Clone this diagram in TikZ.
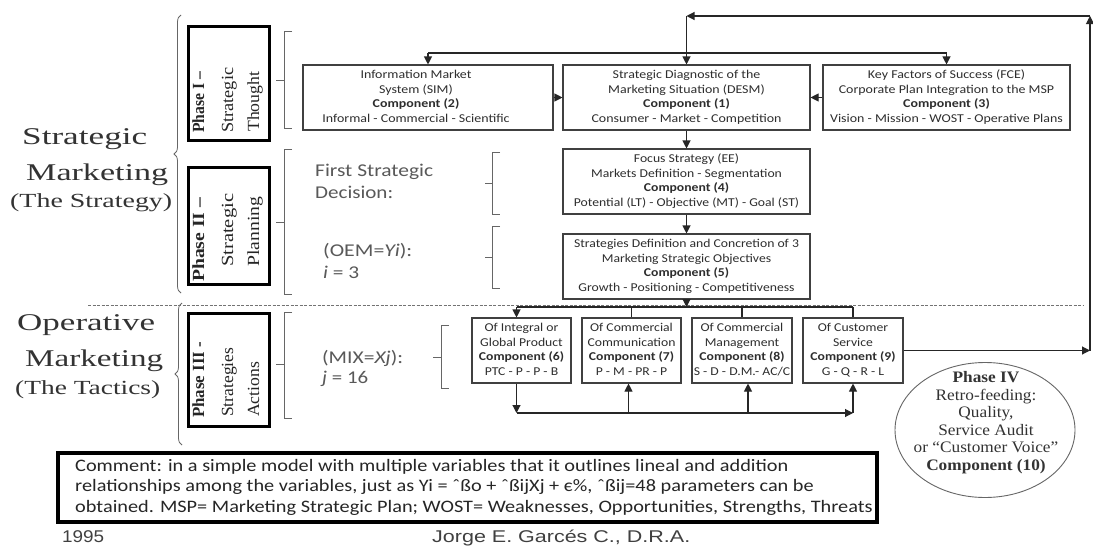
\documentclass[tikz,border=0pt]{standalone}
\usepackage{fontspec}
\setmainfont{Liberation Serif}
\newfontfamily\calfont{Carlito}
\newfontfamily\arialfont{Liberation Sans}
\usepackage{graphicx}
\usetikzlibrary{arrows.meta,decorations.pathreplacing,shapes.geometric,calc}
\newcommand{\stackc}[2]{\scalebox{#1}[1]{\begin{tabular}{@{}c@{}}#2\end{tabular}}}
\newcommand{\fitw}[2]{\resizebox{#1pt}{\height}{#2}}
\begin{document}
\begin{tikzpicture}[x=1pt,y=-1pt,
  cbox/.style={draw=black!75, line width=1.1pt, minimum height=65pt, inner sep=0pt,
    font=\calfont\fontsize{12}{14.8}\selectfont, text=black!82},
  phasebox/.style={draw=black, line width=3pt, minimum width=81pt, inner sep=0pt},
  rot/.style={rotate=90, anchor=base west, inner sep=0pt, text=black!85,
    font=\fontsize{17}{17}\selectfont},
  arr/.style={-{Triangle[length=8pt,width=8pt]}, line width=1.1pt, draw=black!85},
  ln/.style={line width=1.1pt, draw=black!85},
  brk/.style={draw=black!60, line width=0.8pt},
  bracegray/.style={draw=black!60, line width=0.8pt, decorate, decoration={brace, amplitude=7pt}},
  dashline/.style={draw=black!55, line width=0.9pt, dash pattern=on 3pt off 1.5pt},
  title/.style={font=\fontsize{24}{24}\selectfont, text=black!80, anchor=base west, inner sep=0pt},
  gtxt/.style={font=\calfont\fontsize{18}{18}\selectfont, text=black!65, anchor=base west, inner sep=0pt}
]
\useasboundingbox (0,0) rectangle (1093,549);
\fill[white] (0,0) rectangle (1093,549);

% ---- left titles and braces
\node[title] (t1) at (22,144) {\fitw{125}{Strategic}};
\node[title] (t2) at (26,180) {\fitw{142}{Marketing}};
\node[title, font=\fontsize{20}{20}\selectfont] (t3) at (10,207) {\fitw{162}{(The Strategy)}};
\node[title] (t4) at (17,330) {\fitw{138}{Operative}};
\node[title] (t5) at (25,366) {\fitw{138}{Marketing}};
\node[title, font=\fontsize{20}{20}\selectfont] (t6) at (15,394) {\fitw{145}{(The Tactics)}};
\draw[bracegray] (181,293) -- (181,15);
\draw[bracegray] (182,445) -- (182,303);

% ---- dashed separator
\draw[dashline] (88,305) -- (1083,305);

% ---- phase boxes
\node[phasebox, minimum height=114pt] (p1) at (228.5,83) {};
\node[phasebox, minimum height=117pt] (p2) at (228.5,225.5) {};
\node[phasebox, minimum height=113pt] (p3) at (228.5,369.5) {};
\node[rot] (p1a) at (204,133) {\fitw{61}{\bfseries Phase I --}};
\node[rot] (p1b) at (233,133) {\fitw{65}{Strategic}};
\node[rot] (p1c) at (259,132) {\fitw{60}{Thought}};
\node[rot] (p2a) at (204,282) {\fitw{84}{\bfseries Phase II --}};
\node[rot] (p2b) at (233,267) {\fitw{73}{Strategic}};
\node[rot] (p2c) at (259,267) {\fitw{70}{Planning}};
\node[rot] (p3a) at (204,418) {\fitw{76}{\bfseries Phase III -}};
\node[rot] (p3b) at (233,417) {\fitw{69}{Strategies}};
\node[rot] (p3c) at (259,417) {\fitw{55}{Actions}};

% ---- square brackets
\foreach \bx/\bt/\bb/\bm/\bl in {284/31/128/80/276, 284/149/294/222/276, 284/312/418/364/276,
                                 492/152/214/183/485, 492/226/288/257/485, 441/325/388/357/433}{
  \draw[brk] (\bx+8,\bt) -- (\bx,\bt) -- (\bx,\bb) -- (\bx+8,\bb);
  \draw[brk] (\bx,\bm) -- (\bl,\bm);
}

% ---- grey side texts
\node[gtxt] (fs1) at (315,176) {\fitw{118}{First Strategic}};
\node[gtxt] (fs2) at (315,198) {\fitw{78}{Decision:}};
\node[gtxt] (oem1) at (323,256) {\fitw{89}{(OEM=\textit{Yi}):}};
\node[gtxt] (oem2) at (323,278) {\fitw{36}{\textit{i} = 3}};
\node[gtxt] (mix1) at (322,363) {\fitw{81}{(MIX=\textit{Xj}):}};
\node[gtxt] (mix2) at (322,383) {\fitw{46}{\textit{j} = 16}};

% ---- top row
\node[cbox, minimum width=250pt] (sim) at (428,97.5)
  {\stackc{1.16}{Information Market\\ System (SIM)\\ \textbf{Component (2)}\\ Informal - Commercial - Scientific}\hspace*{24pt}};
\node[cbox, minimum width=247pt] (desm) at (686.5,97.5)
  {\stackc{1.16}{Strategic Diagnostic of the\\ Marketing Situation (DESM)\\ \textbf{Component (1)}\\ Consumer - Market - Competition}};
\node[cbox, minimum width=247pt] (fce) at (946.5,97.5)
  {\stackc{1.16}{Key Factors of Success (FCE)\\ Corporate Plan Integration to the MSP\\ \textbf{Component (3)}\\ Vision - Mission - WOST - Operative Plans}};

% ---- middle column
\node[cbox, minimum width=247pt] (focus) at (686.5,181.5)
  {\stackc{1.14}{Focus Strategy (EE)\\ Markets Definition - Segmentation\\ \textbf{Component (4)}\\ Potential (LT) - Objective (MT) - Goal (ST)}};
\node[cbox, minimum width=247pt] (strat) at (686.5,266.5)
  {\stackc{1.14}{Strategies Definition and Concretion of 3\\ Marketing Strategic Objectives\\ \textbf{Component (5)}\\ Growth - Positioning - Competitiveness}};

% ---- bottom row
\node[cbox, minimum width=99pt] (b6) at (521.5,350.5)
  {\stackc{1.14}{Of Integral or\\ Global Product\\ \textbf{Component (6)}\\ PTC - P - P - B}};
\node[cbox, minimum width=99pt] (b7) at (631.5,350.5)
  {\stackc{1.14}{Of Commercial\\ Communication\\ \textbf{Component (7)}\\ P - M - PR - P}};
\node[cbox, minimum width=100pt] (b8) at (742,350.5)
  {\stackc{1.14}{Of Commercial\\ Management\\ \textbf{Component (8)}\\ \makebox[80pt]{S - D - D.M.- AC/C}}};
\node[cbox, minimum width=100pt] (b9) at (853,350.5)
  {\stackc{1.14}{Of Customer\\ Service\\ \textbf{Component (9)}\\ G - Q - R - L}};

% ---- phase IV ellipse
\node[ellipse, draw=black!60, line width=0.9pt, minimum width=180pt, minimum height=135pt, inner sep=0pt] (e4) at (985,430) {};
\node[inner sep=0pt, font=\fontsize{16}{17.6}\selectfont, text=black!80] (e4t) at (986,423)
  {\stackc{1.08}{\textbf{Phase IV}\\ Retro-feeding:\\ Quality,\\ Service Audit\\ or “Customer Voice”\\ \textbf{Component (10)}}};

% ---- comment box
\node[draw=black, line width=3.5pt, minimum width=819pt, minimum height=69pt, inner sep=0pt] (cm) at (467.5,487.5) {};
\node[anchor=base west, inner sep=0pt, font=\calfont\fontsize{17.5}{20.5}\selectfont, text=black!85] (cmt) at (75,471)
  {\scalebox{1.16}[1]{\begin{tabular}[t]{@{}l@{}}Comment: in a simple model with multiple variables that it outlines lineal and addition\\
  relationships among the variables, just as Yi = ˆßo + ˆßijXj + є\%, ˆßij=48 parameters can be\\
  obtained. MSP= Marketing Strategic Plan; WOST= Weaknesses, Opportunities, Strengths, Threats\end{tabular}}};

% ---- footer
\node[anchor=base west, inner sep=0pt, font=\arialfont\fontsize{17}{17}\selectfont, text=black!75] (yr) at (62,542) {\fitw{42}{1995}};
\node[anchor=base west, inner sep=0pt, font=\arialfont\fontsize{17}{17}\selectfont, text=black!75] (au) at (432,542) {\fitw{258}{Jorge E. Garcés C., D.R.A.}};

% ---- coordinates for connectors
\coordinate (fbR) at (1090,350.5);
\coordinate (fbT) at (1090,16);
\coordinate (fbL) at (686.5,16);
\coordinate (busT) at (686.5,53);
\coordinate (busM) at (686.5,307);
\coordinate (busB) at (686.5,413);
\coordinate (b6n) at ([xshift=-5pt]b6.north);
\coordinate (b6s) at ([xshift=-5pt]b6.south);
\coordinate (b7s) at ([xshift=-3pt]b7.south);
\coordinate (b8s) at ([xshift=6pt]b8.south);

% ---- feedback loop (top)
\draw[arr] (b9.east) -- (fbR);
\draw[arr] (fbR) -- (fbT);
\draw[arr] (fbT) -- (fbL);
\draw[arr] (fbL) -- (desm.north);
\draw[ln] (sim.north |- busT) -- (fce.north |- busT);
\draw[arr] (sim.north |- busT) -- (sim.north);
\draw[arr] (fce.north |- busT) -- (fce.north);
\draw[arr] (sim.east) -- (desm.west);
\draw[arr] (fce.west) -- (desm.east);
\draw[arr] (desm.south) -- (focus.north);
\draw[arr] (focus.south) -- (strat.north);

% ---- distribution bus
\draw[arr] (strat.south) -- (busM);
\draw[ln] (b6n |- busM) -- (b9.north |- busM);
\draw[arr] (b6n |- busM) -- (b6n);
\draw[ln] (b7.north |- busM) -- (b7.north);
\draw[ln] (b8.north |- busM) -- (b8.north);
\draw[ln] (b9.north |- busM) -- (b9.north);

% ---- lower bus
\draw[arr] (b6s) -- (b6s |- busB);
\draw[arr] (b6s |- busB) -- (b9.south |- busB);
\draw[arr] (b9.south |- busB) -- (b9.south);
\draw[arr] (b7s |- busB) -- (b7s);
\draw[arr] (b8s |- busB) -- (b8s);
\end{tikzpicture}
\end{document}
